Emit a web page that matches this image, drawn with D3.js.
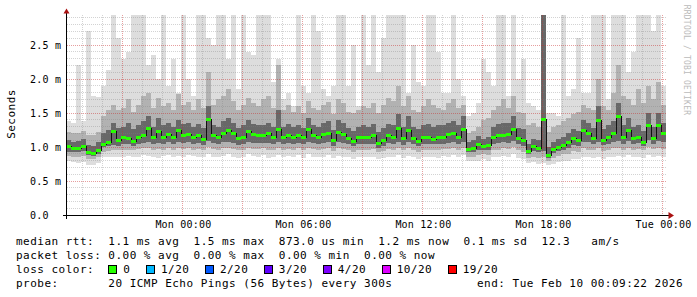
<!DOCTYPE html>
<html>
<head>
<meta charset="utf-8">
<script src="https://cdn.jsdelivr.net/npm/d3@7/dist/d3.min.js"></script>
<style>
  html, body { margin: 0; padding: 0; background: #fff; }
  svg { display: block; }
  text { font-family: "DejaVu Sans Mono", monospace; }
</style>
</head>
<body>
<div id="chart"></div>
<script>
// Janela de tempo do gráfico (30 horas, passos de 15 min)
const startTime = new Date(Date.UTC(2026, 1, 8, 18, 9, 22));
const endTime = new Date(Date.UTC(2026, 1, 10, 0, 9, 22));
const stepMinutes = 15;

// Mediana do RTT (ms) por passo
const median = [
  1.01,0.98,0.99,1.02,0.92,0.91,0.96,1.05,1.07,1.24,
  1.10,1.14,1.13,1.09,1.15,1.18,1.28,1.15,1.24,1.14,
  1.19,1.15,1.25,1.18,1.19,1.15,1.18,1.12,1.41,1.17,
  1.15,1.21,1.25,1.21,1.13,1.15,1.24,1.19,1.18,1.17,
  1.20,1.15,1.27,1.15,1.18,1.15,1.17,1.14,1.26,1.17,
  1.14,1.19,1.21,1.10,1.22,1.19,1.13,1.09,1.14,1.14,
  1.14,1.17,1.06,1.10,1.17,1.15,1.28,1.13,1.25,1.13,
  1.09,1.14,1.15,1.12,1.15,1.14,1.19,1.21,1.15,1.26,
  0.97,0.98,1.05,1.01,1.03,1.15,1.17,1.18,1.19,1.27,
  1.13,1.10,0.94,1.01,0.98,1.41,0.88,0.97,1.00,1.03,
  1.08,1.13,1.10,1.25,1.20,1.13,1.40,1.10,1.15,1.20,
  1.45,1.15,1.25,1.13,1.15,1.08,1.33,1.13,1.32,1.20
];

// Fumaça: ping mais rápido (ms)
const pMin = [
  0.80,0.78,0.77,0.78,0.74,0.73,0.76,0.85,0.86,0.86,
  0.85,0.86,0.87,0.85,0.86,0.88,0.87,0.86,0.84,0.87,
  0.88,0.86,0.87,0.85,0.88,0.87,0.86,0.85,0.90,0.86,
  0.85,0.87,0.89,0.86,0.84,0.85,0.90,0.87,0.86,0.88,
  0.84,0.86,0.88,0.85,0.87,0.86,0.88,0.84,0.89,0.86,
  0.85,0.86,0.88,0.84,0.87,0.85,0.86,0.83,0.85,0.86,
  0.86,0.85,0.82,0.84,0.86,0.85,0.88,0.84,0.87,0.85,
  0.83,0.86,0.85,0.86,0.84,0.87,0.85,0.88,0.86,0.88,
  0.80,0.79,0.80,0.82,0.80,0.86,0.85,0.87,0.86,0.89,
  0.84,0.83,0.76,0.78,0.75,0.77,0.73,0.75,0.78,0.79,
  0.80,0.83,0.82,0.86,0.85,0.84,0.86,0.83,0.85,0.86,
  0.87,0.85,0.88,0.85,0.86,0.84,0.88,0.86,0.87,0.86
];

// Fumaça: quantil inferior (borda de baixo do cinza médio)
const pQ1 = [
  0.87,0.86,0.86,0.87,0.83,0.82,0.85,0.93,0.94,0.96,
  0.95,0.96,0.96,0.95,0.97,0.98,0.99,0.96,0.97,0.96,
  0.98,0.96,0.98,0.97,0.98,0.96,0.97,0.95,1.00,0.97,
  0.96,0.98,0.99,0.97,0.95,0.96,0.99,0.97,0.97,0.98,
  0.96,0.96,0.99,0.96,0.97,0.96,0.98,0.95,0.99,0.97,
  0.96,0.97,0.98,0.94,0.98,0.97,0.96,0.93,0.96,0.96,
  0.96,0.97,0.92,0.94,0.97,0.96,0.99,0.95,0.98,0.95,
  0.93,0.96,0.96,0.96,0.95,0.97,0.97,0.98,0.96,0.99,
  0.86,0.86,0.88,0.89,0.88,0.96,0.96,0.98,0.97,1.00,
  0.95,0.93,0.84,0.86,0.84,0.86,0.80,0.84,0.87,0.89,
  0.90,0.94,0.93,0.98,0.96,0.95,0.98,0.94,0.96,0.98,
  0.99,0.96,0.99,0.96,0.97,0.95,1.00,0.97,0.99,0.97
];

// Fumaça: faixa escura em volta da mediana (baixo / cima)
const pLow = [
  0.93,0.92,0.92,0.94,0.88,0.87,0.90,1.00,1.01,1.03,
  1.02,1.04,1.04,1.02,1.05,1.06,1.08,1.04,1.06,1.04,
  1.07,1.04,1.07,1.06,1.07,1.04,1.06,1.03,1.09,1.06,
  1.05,1.07,1.08,1.06,1.03,1.05,1.08,1.06,1.06,1.06,
  1.06,1.04,1.08,1.05,1.06,1.05,1.06,1.04,1.08,1.06,
  1.04,1.06,1.07,1.02,1.08,1.06,1.04,1.01,1.04,1.04,
  1.04,1.05,0.99,1.02,1.06,1.04,1.08,1.03,1.07,1.04,
  1.01,1.04,1.04,1.04,1.04,1.05,1.06,1.07,1.05,1.08,
  0.92,0.92,0.96,0.95,0.95,1.05,1.06,1.07,1.06,1.09,
  1.04,1.02,0.89,0.94,0.92,0.94,0.84,0.91,0.94,0.96,
  0.99,1.03,1.02,1.08,1.07,1.04,1.08,1.03,1.05,1.08,
  1.09,1.05,1.09,1.04,1.06,1.02,1.10,1.05,1.09,1.07
];
const pHigh = [
  1.10,1.08,1.09,1.12,1.03,1.02,1.07,1.20,1.25,1.36,
  1.28,1.30,1.35,1.26,1.32,1.38,1.45,1.30,1.42,1.33,
  1.36,1.30,1.40,1.34,1.35,1.30,1.34,1.28,1.60,1.32,
  1.30,1.38,1.42,1.36,1.28,1.32,1.40,1.34,1.33,1.32,
  1.36,1.30,1.55,1.30,1.34,1.30,1.33,1.28,1.42,1.32,
  1.30,1.36,1.38,1.25,1.40,1.35,1.28,1.24,1.30,1.32,
  1.30,1.34,1.22,1.28,1.34,1.32,1.48,1.30,1.45,1.30,
  1.26,1.32,1.34,1.30,1.33,1.32,1.36,1.38,1.32,1.45,
  1.08,1.10,1.16,1.12,1.15,1.30,1.34,1.36,1.36,1.45,
  1.28,1.26,1.05,1.12,1.10,2.94,1.00,1.08,1.12,1.15,
  1.20,1.26,1.24,1.40,1.35,1.28,1.60,1.26,1.32,1.38,
  1.65,1.32,1.42,1.30,1.32,1.24,1.50,1.30,1.50,1.36
];

// Fumaça: quantil superior (topo do cinza médio)
const pMid = [
  1.22,1.20,1.21,1.24,1.18,1.17,1.22,1.45,1.55,1.62,
  1.55,1.58,1.70,1.52,1.62,1.75,1.80,1.58,1.72,1.60,
  1.65,1.55,1.78,1.62,1.66,1.55,1.70,1.58,2.10,1.62,
  1.70,1.75,1.85,1.68,1.55,1.62,1.72,1.64,1.60,1.70,
  1.75,1.58,2.20,1.55,1.62,1.52,1.60,1.50,1.68,1.58,
  1.55,1.62,1.66,1.48,1.70,1.65,1.52,1.50,1.55,1.60,
  1.58,1.65,1.50,1.62,1.72,1.68,1.90,1.60,1.75,1.55,
  1.52,1.60,1.70,1.62,1.58,1.55,1.65,1.70,1.58,1.62,
  1.20,1.24,1.30,1.40,1.42,1.55,1.60,1.70,1.58,1.75,
  1.52,1.50,1.32,1.35,1.30,2.94,1.22,1.30,1.32,1.38,
  1.42,1.48,1.52,1.62,1.58,1.55,2.00,1.60,1.55,1.80,
  2.20,1.75,1.70,1.62,1.85,1.65,1.90,1.70,1.95,1.62
];

// Fumaça: ping mais lento (ms), cortado no topo do gráfico
const pMax = [
  1.38,1.36,2.20,1.38,2.70,1.75,1.74,1.90,2.13,2.94,
  2.60,2.30,2.40,2.94,2.94,2.94,2.20,2.35,2.00,2.94,
  1.90,2.30,1.80,2.94,2.00,1.75,2.94,2.94,2.60,2.50,
  2.94,2.94,2.30,2.94,1.85,2.94,2.40,2.35,2.94,2.94,
  2.94,1.95,2.30,1.70,1.80,1.60,2.94,1.90,1.80,2.94,
  2.70,1.85,1.75,1.90,2.94,2.94,1.90,2.50,1.60,2.94,
  2.20,2.94,2.10,2.60,2.94,2.94,2.94,2.94,1.80,2.50,
  1.95,1.90,2.94,2.94,2.40,1.80,1.80,2.94,2.00,1.75,
  1.45,1.50,1.65,2.30,2.10,1.90,2.94,2.94,1.75,2.94,
  2.00,2.30,1.65,1.60,1.55,2.94,1.50,1.50,1.45,2.94,
  1.75,1.85,2.60,1.80,1.80,2.94,2.94,2.94,1.70,2.94,
  2.94,2.94,2.10,2.40,2.94,2.94,2.94,2.70,2.94,1.90
];

// Eixos
const yTicks = [0, 0.5, 1.0, 1.5, 2.0, 2.5];
const yTickLabels = ["0.0", "0.5 m", "1.0 m", "1.5 m", "2.0 m", "2.5 m"];
const xTickTimes = ["2026-02-09T00:00:00Z", "2026-02-09T06:00:00Z", "2026-02-09T12:00:00Z",
                    "2026-02-09T18:00:00Z", "2026-02-10T00:00:00Z"];

// Legenda
const rttStats = ["1.1 ms avg", "1.5 ms max", "873.0 us min", "1.2 ms now", "0.1 ms sd", "12.3   am/s"];
const lossStats = ["0.00 % avg", "0.00 % max", "0.00 % min", "0.00 % now"];
const lossLevels = ["0", "1/20", "2/20", "3/20", "4/20", "10/20", "19/20"];
const probeText = "20 ICMP Echo Pings (56 Bytes) every 300s";
const endText = "end: Tue Feb 10 00:09:22 2026";

const width = 697, height = 297;

const svg = d3.select("#chart")
    .append("svg")
    .attr("width", width)
    .attr("height", height);

const x = d3.scaleUtc().domain([startTime, endTime]).range([66, 666]);
const y = d3.scaleLinear().domain([0, 2.5]).range([215, 45]);
const yTop = y.invert(15);

const lossColor = d3.scaleOrdinal()
    .domain(lossLevels)
    .range(["#26ff00", "#00b8ff", "#0059ff", "#5e00ff", "#7e00ff", "#dd00ff", "#ff0000"]);

const n = median.length;
const timeAt = i => new Date(+startTime + i * stepMinutes * 60000);
const idx = d3.range(n + 1);           // último ponto fecha o degrau final
const at = (arr, i) => arr[Math.min(i, n - 1)];

// espaços preservados no SVG (texto monoespaçado)
const keep = s => s.replace(/ /g, "\u00a0");

// Camadas de fumaça (de fora para dentro)
const layers = [
    {lo: pMin, hi: pMax, color: "#dddddd"},
    {lo: pQ1, hi: pMid, color: "#b2b2b2"},
    {lo: pLow, hi: pHigh, color: "#686868"}
];

const smoke = svg.append("g").attr("shape-rendering", "crispEdges");
layers.forEach(l => {
    const area = d3.area()
        .curve(d3.curveStepAfter)
        .x(i => x(timeAt(i)))
        .y0(i => y(at(l.lo, i)))
        .y1(i => y(Math.min(at(l.hi, i), yTop)));
    smoke.append("path").attr("d", area(idx)).attr("fill", l.color);
});

// Grade (por cima da fumaça, semitransparente)
const grid = svg.append("g").attr("shape-rendering", "crispEdges");
const px = v => Math.floor(v) + 0.5;

const minorY = d3.range(1, 30).map(k => k / 10).filter(v => Math.round(v * 10) % 5 !== 0 && v <= yTop);
grid.selectAll(".hmin").data(minorY).join("line")
    .attr("x1", 67).attr("x2", 666)
    .attr("y1", d => px(y(d))).attr("y2", d => px(y(d)))
    .attr("stroke", "rgba(130,130,130,0.35)")
    .attr("stroke-dasharray", "1,1");

const minorX = d3.utcHour.every(1).range(startTime, endTime).filter(t => t.getUTCHours() % 3 !== 0);
grid.selectAll(".vmin").data(minorX).join("line")
    .attr("x1", d => px(x(d))).attr("x2", d => px(x(d)))
    .attr("y1", 15).attr("y2", 215)
    .attr("stroke", "rgba(130,130,130,0.35)")
    .attr("stroke-dasharray", "1,1");

grid.selectAll(".hmaj").data(yTicks.slice(1)).join("line")
    .attr("x1", 67).attr("x2", 666)
    .attr("y1", d => px(y(d))).attr("y2", d => px(y(d)))
    .attr("stroke", "rgba(200,40,40,0.45)")
    .attr("stroke-dasharray", "1,1");

const majorX = d3.utcHour.every(3).range(startTime, endTime);
grid.selectAll(".vmaj").data(majorX).join("line")
    .attr("x1", d => px(x(d))).attr("x2", d => px(x(d)))
    .attr("y1", 15).attr("y2", 215)
    .attr("stroke", "rgba(200,40,40,0.45)")
    .attr("stroke-dasharray", "1,1");

// Mediana: linha preta em degraus + blocos verdes (perda 0)
const medLine = d3.line()
    .curve(d3.curveStepAfter)
    .x(i => x(timeAt(i)))
    .y(i => Math.round(y(at(median, i))) + 0.5);
svg.append("path")
    .attr("d", medLine(idx))
    .attr("fill", "none")
    .attr("stroke", "#111")
    .attr("stroke-width", 1)
    .attr("shape-rendering", "crispEdges");

svg.append("g").attr("shape-rendering", "crispEdges")
    .selectAll("rect").data(median).join("rect")
    .attr("x", (d, i) => x(timeAt(i)))
    .attr("width", (d, i) => x(timeAt(i + 1)) - x(timeAt(i)))
    .attr("y", d => Math.round(y(d)) - 1)
    .attr("height", 3)
    .attr("fill", lossColor("0"));

// Eixos e setas
const axis = svg.append("g").attr("shape-rendering", "crispEdges");
axis.append("line").attr("x1", 63).attr("x2", 669).attr("y1", 215.5).attr("y2", 215.5).attr("stroke", "#000");
axis.append("line").attr("x1", 66.5).attr("x2", 66.5).attr("y1", 12).attr("y2", 219).attr("stroke", "#000");
svg.append("path").attr("d", "M63.5,13.5L69.5,13.5L66.5,8.5Z").attr("fill", "#a11");
svg.append("path").attr("d", "M668.5,212L668.5,219L674,215.5Z").attr("fill", "#a11");

svg.append("g").selectAll("text").data(yTicks).join("text")
    .attr("x", 30)
    .attr("y", d => y(d) + 3.5)
    .attr("font-size", "10px")
    .attr("letter-spacing", "0.2px")
    .attr("fill", "#000")
    .text((d, i) => keep(yTickLabels[i]));

svg.append("g").selectAll("text").data(xTickTimes.map(s => new Date(s))).join("text")
    .attr("x", d => x(d) + 0.5)
    .attr("y", 228)
    .attr("text-anchor", "middle")
    .attr("font-size", "10px")
    .attr("letter-spacing", "0.2px")
    .attr("fill", "#000")
    .text(d => keep(d3.utcFormat("%a %H:%M")(d)));

svg.append("text")
    .attr("transform", "translate(15,114) rotate(-90)")
    .attr("text-anchor", "middle")
    .attr("font-size", "11px")
    .attr("letter-spacing", "0.48px")
    .text("Seconds");

svg.append("text")
    .attr("transform", "translate(684,60) rotate(90)")
    .attr("text-anchor", "middle")
    .attr("font-size", "8px")
    .attr("letter-spacing", "0.2px")
    .attr("fill", "#bbbbbb")
    .text(keep("RRDTOOL / TOBI OETIKER"));

// Legenda
const legend = svg.append("g")
    .attr("font-size", "11px")
    .attr("letter-spacing", "0.48px")
    .attr("fill", "#000");

legend.append("text").attr("x", 16).attr("y", 245).text(keep("median rtt:  " + rttStats.join("  ")));
legend.append("text").attr("x", 16).attr("y", 259).text(keep("packet loss: " + lossStats.join("  ")));
const lossLabel = legend.append("text").attr("x", 16).attr("y", 273).text(keep("loss color:  "));
legend.append("text").attr("x", 16).attr("y", 287).text(keep("probe:       " + probeText));
legend.append("text").attr("x", 683).attr("y", 287).attr("text-anchor", "end").text(keep(endText));

let cx = 16 + lossLabel.node().getComputedTextLength();
lossLevels.forEach(lv => {
    legend.append("rect")
        .attr("x", Math.round(cx) + 0.5).attr("y", 265.5)
        .attr("width", 8).attr("height", 8)
        .attr("fill", lossColor(lv))
        .attr("stroke", "#000")
        .attr("shape-rendering", "crispEdges");
    const t = legend.append("text").attr("x", cx + 15).attr("y", 273).text(keep(lv));
    cx += 15 + t.node().getComputedTextLength() + 15.5;
});
</script>
</body>
</html>
